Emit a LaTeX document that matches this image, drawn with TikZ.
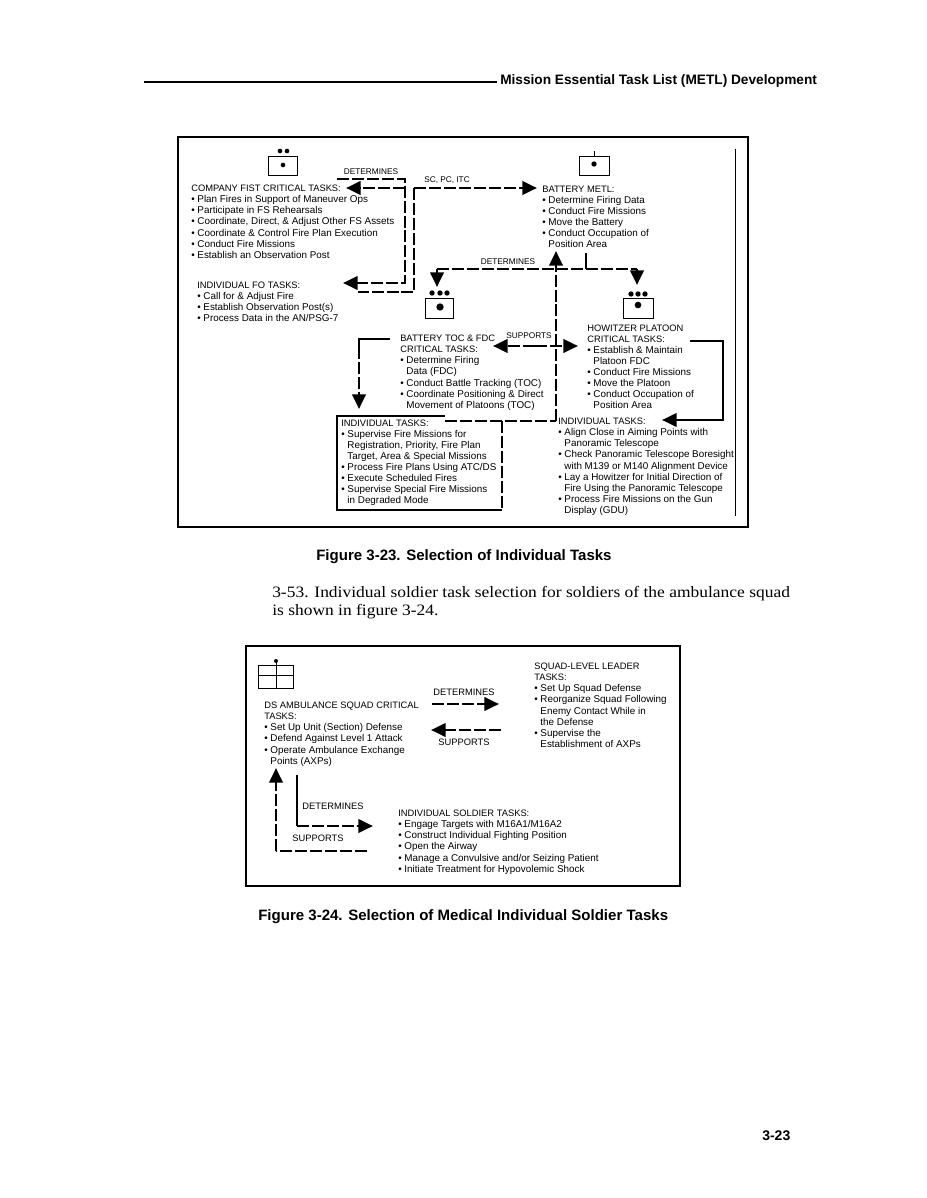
\documentclass[tikz,border=0pt]{standalone}
\usepackage{fontspec}
\setmainfont{Liberation Sans}
\newfontfamily\bodyserif[FakeStretch=1.1]{Liberation Serif}
\usetikzlibrary{arrows.meta}
\newcommand\hdline[1]{{\fontsize{7}{8.3}\selectfont #1}}
\tikzset{
  txt/.style={anchor=north west,inner sep=0pt,align=left,font=\fontsize{7.4}{8.3}\selectfont},
  lbl/.style={anchor=center,inner sep=0pt,font=\fontsize{6.2}{7}\selectfont},
  lblb/.style={anchor=center,inner sep=0pt,font=\fontsize{7}{8}\selectfont},
  head/.style={anchor=west,inner sep=0pt,font=\fontsize{10.26}{12}\selectfont\bfseries},
  figcap/.style={anchor=west,inner sep=0pt,font=\fontsize{11.28}{13}\selectfont\bfseries},
  pagenum/.style={anchor=west,inner sep=0pt,font=\fontsize{10.5}{12}\selectfont\bfseries},
  bodytxt/.style={anchor=west,inner sep=0pt,font=\fontsize{11.9}{13}\bodyserif\selectfont},
  frame/.style={draw=black,line width=1.5pt},
  unit/.style={draw=black,line width=.6pt},
  dot/.style={circle,fill=black,inner sep=0pt,minimum size=4pt},
  dashline/.style={draw=black,line width=2.1pt,dash pattern=on 9pt off 2.2pt},
  arr/.style={dashline,-{Triangle[length=11pt,width=10pt]}},
  solid line/.style={draw=black,line width=2.1pt},
  solidarr/.style={draw=black,line width=2.1pt,-{Triangle[length=11pt,width=10pt]}},
  thin rule/.style={draw=black,line width=.7pt}
}
\begin{document}
\begin{tikzpicture}[x=.75pt,y=-.75pt]
\useasboundingbox[fill=white] (0,0) rectangle (926,1198);
% page header
\coordinate (hl) at (144,82); \coordinate (hr) at (497,82);
\draw[line width=1.1pt] (hl) -- (hr);
\node[head] (header) at (500,81) {Mission Essential Task List (METL) Development};
% figure 3-23 frame
\draw[frame] (178,137) rectangle (748,527);
\coordinate (ruleT) at (735,149); \coordinate (ruleB) at (735,516);
\draw[thin rule] (ruleT) -- (ruleB);
% unit symbols fig 3-23
\draw[unit] (268,156) rectangle (297,175);
\node[dot,minimum size=3.5pt] (c1) at (280,151) {}; \node[dot,minimum size=3.5pt] (c2) at (287,151) {};
\node[dot,minimum size=3.5pt] (c3) at (283,165) {};
\draw[unit] (579,156) rectangle (609,175);
\coordinate (bt) at (594,151); \coordinate (bb) at (594,156); \draw[unit] (bt) -- (bb);
\node[dot,minimum size=4pt] (b1) at (594,164) {};
\draw[unit] (425,298) rectangle (453,318);
\node[dot] (f1) at (432,293) {}; \node[dot] (f2) at (440,293) {}; \node[dot] (f3) at (447,293) {};
\node[dot,minimum size=5.5pt] (f4) at (440,307) {};
\draw[unit] (623,298) rectangle (653,318);
\node[dot] (p1) at (631,294) {}; \node[dot] (p2) at (638,294) {}; \node[dot] (p3) at (645,294) {};
\node[dot,minimum size=5pt] (p4) at (638,305) {};
% text blocks fig 3-23
\node[txt] (company) at (191,185) {\hdline{COMPANY FIST CRITICAL TASKS:}\\
\textbullet\ Plan Fires in Support of Maneuver Ops\\
\textbullet\ Participate in FS Rehearsals\\
\textbullet\ Coordinate, Direct, \& Adjust Other FS Assets\\
\textbullet\ Coordinate \& Control Fire Plan Execution\\
\textbullet\ Conduct Fire Missions\\
\textbullet\ Establish an Observation Post};
\node[txt] (fo) at (197,282) {\hdline{INDIVIDUAL FO TASKS:}\\
\textbullet\ Call for \& Adjust Fire\\
\textbullet\ Establish Observation Post(s)\\
\textbullet\ Process Data in the AN/PSG-7};
\node[txt] (metl) at (542,185.5) {\hdline{BATTERY METL:}\\
\textbullet\ Determine Firing Data\\
\textbullet\ Conduct Fire Missions\\
\textbullet\ Move the Battery\\
\textbullet\ Conduct Occupation of\\
\hphantom{\textbullet\ }Position Area};
\node[txt] (toc) at (400,335) {\hdline{BATTERY TOC \& FDC}\\
\hdline{CRITICAL TASKS:}\\
\textbullet\ Determine Firing\\
\hphantom{\textbullet\ }Data (FDC)\\
\textbullet\ Conduct Battle Tracking (TOC)\\
\textbullet\ Coordinate Positioning \& Direct\\
\hphantom{\textbullet\ }Movement of Platoons (TOC)};
\node[txt] (how) at (587,324.5) {\hdline{HOWITZER PLATOON}\\
\hdline{CRITICAL TASKS:}\\
\textbullet\ Establish \& Maintain\\
\hphantom{\textbullet\ }Platoon FDC\\
\textbullet\ Conduct Fire Missions\\
\textbullet\ Move the Platoon\\
\textbullet\ Conduct Occupation of\\
\hphantom{\textbullet\ }Position Area};
\node[txt] (ind1) at (341,419.5) {\hdline{INDIVIDUAL TASKS:}\\
\textbullet\ Supervise Fire Missions for\\
\hphantom{\textbullet\ }Registration, Priority, Fire Plan\\
\hphantom{\textbullet\ }Target, Area \& Special Missions\\
\textbullet\ Process Fire Plans Using ATC/DS\\
\textbullet\ Execute Scheduled Fires\\
\textbullet\ Supervise Special Fire Missions\\
\hphantom{\textbullet\ }in Degraded Mode};
\node[txt] (ind2) at (558,418) {\hdline{INDIVIDUAL TASKS:}\\
\textbullet\ Align Close in Aiming Points with\\
\hphantom{\textbullet\ }Panoramic Telescope\\
\textbullet\ Check Panoramic Telescope Boresight\\
\hphantom{\textbullet\ }with M139 or M140 Alignment Device\\
\textbullet\ Lay a Howitzer for Initial Direction of\\
\hphantom{\textbullet\ }Fire Using the Panoramic Telescope\\
\textbullet\ Process Fire Missions on the Gun\\
\hphantom{\textbullet\ }Display (GDU)};
% labels fig 3-23
\node[lbl] (ldet1) at (371,172) {DETERMINES};
\node[lbl] (lsc) at (447,180) {SC, PC, ITC};
\node[lbl] (ldet2) at (508,262) {DETERMINES};
\node[lbl] (lsup1) at (529,336) {SUPPORTS};
% connectors fig 3-23
\coordinate (a1) at (337,179); \coordinate (a2) at (405,179); \coordinate (a3) at (405,283); \coordinate (a4) at (343,283);
\draw[arr] (a1) -- (a2) -- (a3) -- (a4);
\coordinate (b0) at (405,188); \coordinate (b2) at (346,188);
\draw[arr] (b0) -- (b2);
\coordinate (s0) at (414,188); \coordinate (s1) at (537,188); \coordinate (s2) at (414,292); \coordinate (s3) at (358,292);
\draw[arr] (s0) -- (s1);
\draw[dashline] (s0) -- (s2) -- (s3);
\coordinate (d0) at (437,269); \coordinate (d1) at (437,287); \coordinate (d2) at (637,269); \coordinate (d3) at (637,285);
\draw[dashline] (d0) -- (d2);
\draw[arr] (d0) -- (d1);
\draw[arr] (d2) -- (d3);
\coordinate (st0) at (586,253); \coordinate (st1) at (586,269);
\draw[solid line] (st0) -- (st1);
\coordinate (u0) at (556,421); \coordinate (u1) at (556,251);
\draw[arr] (u0) -- (u1);
\coordinate (h0) at (445,421);
\draw[dashline] (h0) -- (u0);
\coordinate (sp0) at (493,346); \coordinate (sp1) at (578,346); \coordinate (spm) at (535,346);
\draw[arr] (spm) -- (sp0); \draw[arr] (spm) -- (sp1);
\coordinate (t0) at (390,339); \coordinate (t1) at (359,339); \coordinate (t2) at (359,409); \coordinate (t3) at (359,347);
\draw[solid line] (t0) -- (t1) -- (t3);
\draw[arr] (t3) -- (t2);
\coordinate (w0) at (690,341); \coordinate (w1) at (723,341); \coordinate (w2) at (723,420); \coordinate (w3) at (662,420);
\draw[solidarr] (w0) -- (w1) -- (w2) -- (w3);
% individual tasks box
\coordinate (bxa) at (337,416); \coordinate (bxb) at (445,416); \coordinate (bxd) at (502,510); \coordinate (bxe) at (337,510); \coordinate (bxf) at (502,421);
\draw[line width=1pt] (bxb) -- (bxa) -- (bxe) -- (bxd);
\draw[dashline] (bxf) -- (bxd);
% captions and body
\node[figcap] (cap1) at (316,557) {Figure 3-23. Selection of Individual Tasks};
\node[bodytxt] (body1) at (272,594) {3-53. Individual soldier task selection for soldiers of the ambulance squad};
\node[bodytxt] (body2) at (272,612) {is shown in figure 3-24.};
% figure 3-24 frame
\draw[frame] (246,646) rectangle (680,886);
\draw[unit] (258,665) rectangle (293,688);
\coordinate (m0) at (276,661); \coordinate (m1) at (276,688);
\draw[unit] (m0) -- (m1);
\node[dot,minimum size=3pt] (m2) at (276,661) {};
\coordinate (m3) at (258,675); \coordinate (m4) at (293,675);
\draw[unit] (m3) -- (m4);
\node[txt] (amb) at (264,702) {\hdline{DS AMBULANCE SQUAD CRITICAL}\\
\hdline{TASKS:}\\
\textbullet\ Set Up Unit (Section) Defense\\
\textbullet\ Defend Against Level 1 Attack\\
\textbullet\ Operate Ambulance Exchange\\
\hphantom{\textbullet\ }Points (AXPs)};
\node[txt] (sq) at (534,663) {\hdline{SQUAD-LEVEL LEADER}\\
\hdline{TASKS:}\\
\textbullet\ Set Up Squad Defense\\
\textbullet\ Reorganize Squad Following\\
\hphantom{\textbullet\ }Enemy Contact While in\\
\hphantom{\textbullet\ }the Defense\\
\textbullet\ Supervise the\\
\hphantom{\textbullet\ }Establishment of AXPs};
\node[txt] (sold) at (398,810) {\hdline{INDIVIDUAL SOLDIER TASKS:}\\
\textbullet\ Engage Targets with M16A1/M16A2\\
\textbullet\ Construct Individual Fighting Position\\
\textbullet\ Open the Airway\\
\textbullet\ Manage a Convulsive and/or Seizing Patient\\
\textbullet\ Initiate Treatment for Hypovolemic Shock};
\node[lblb] (ld3) at (464,692) {DETERMINES};
\node[lblb] (ls3) at (464,742) {SUPPORTS};
\node[lblb] (ld4) at (333,806) {DETERMINES};
\node[lblb] (ls4) at (318,838) {SUPPORTS};
\coordinate (e0) at (432,704); \coordinate (e1) at (499,704);
\draw[arr] (e0) -- (e1);
\coordinate (g0) at (501,730); \coordinate (g1) at (431,730);
\draw[arr] (g0) -- (g1);
\coordinate (k0) at (367,851); \coordinate (k1) at (276,851); \coordinate (k2) at (276,768);
\draw[dashline] (k0) -- (k1);
\draw[arr] (k1) -- (k2);
\coordinate (n0) at (297,775); \coordinate (n1) at (297,826); \coordinate (n2) at (373,826);
\draw[solid line] (n0) -- (n1);
\draw[arr] (n1) -- (n2);
\node[figcap] (cap2) at (258,917) {Figure 3-24. Selection of Medical Individual Soldier Tasks};
\node[pagenum] (pg) at (762,1136) {3-23};
\end{tikzpicture}
\end{document}
